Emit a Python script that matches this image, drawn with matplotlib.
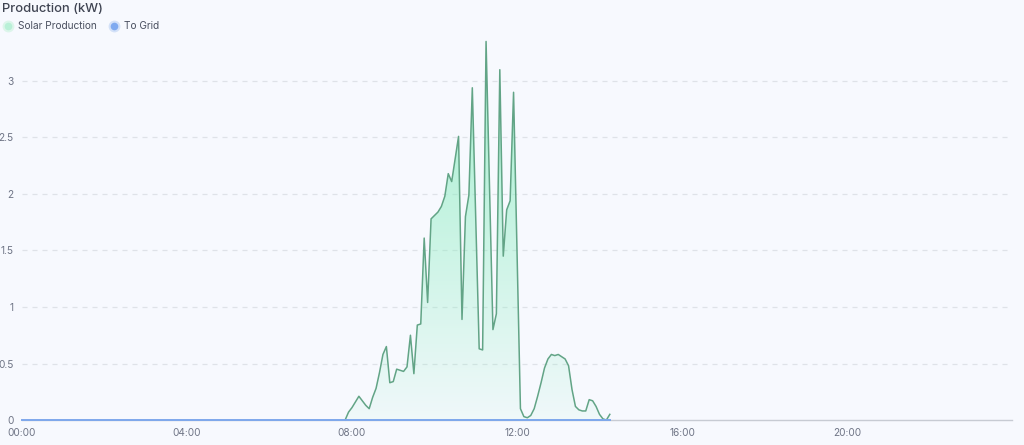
import numpy as np
import matplotlib
matplotlib.use("Agg")
import matplotlib.pyplot as plt
from matplotlib.lines import Line2D

plt.rcParams['font.family'] = ['Inter', 'DejaVu Sans']

# ---- data ----
title = "Production (kW)"
series_names = ["Solar Production", "To Grid"]
x_tick_labels = ["00:00", "04:00", "08:00", "12:00", "16:00", "20:00"]
x_tick_hours = [0, 4, 8, 12, 16, 20]
y_ticks = [0, 0.5, 1, 1.5, 2, 2.5, 3]
y_tick_labels = ["0", "0.5", "1", "1.5", "2", "2.5", "3"]

step_min = 5
solar_start_min = 7 * 60 + 50   # 07:50
solar_kw = [
    0.00, 0.07, 0.11, 0.16, 0.21, 0.17, 0.13, 0.10, 0.20, 0.28,
    0.42, 0.58, 0.65, 0.33, 0.34, 0.45, 0.44, 0.43, 0.47, 0.75,
    0.41, 0.84, 0.85, 1.61, 1.04, 1.78, 1.81, 1.84, 1.89, 1.98,
    2.18, 2.11, 2.31, 2.51, 0.89, 1.80, 1.99, 2.94, 1.78, 0.63,
    0.62, 3.35, 2.07, 0.80, 0.94, 3.10, 1.45, 1.86, 1.94, 2.90,
    1.50, 0.10, 0.03, 0.02, 0.04, 0.10, 0.21, 0.33, 0.46, 0.54,
    0.58, 0.57, 0.58, 0.56, 0.54, 0.48, 0.27, 0.12, 0.09, 0.08,
    0.08, 0.18, 0.17, 0.12, 0.05, 0.01, 0.00, 0.05,
]
grid_start_min = 0
to_grid_kw = [0.0] * 172   # 00:00 .. 14:15, flat at zero

solar_t = (solar_start_min + step_min * np.arange(len(solar_kw))) / 60.0
grid_t = (grid_start_min + step_min * np.arange(len(to_grid_kw))) / 60.0
solar = np.array(solar_kw)
grid = np.array(to_grid_kw)

# ---- style ----
bg = "#f7f9fe"
line_green = "#62a486"
fill_rgb = (0.55, 0.93, 0.76)
blue = "#7ea8ec"
grid_col = "#dfe2e8"
tick_col = "#6f7586"
title_col = "#3f4452"

W, H = 1024, 445
fig = plt.figure(figsize=(W / 100, H / 100), dpi=100, facecolor=bg)
ax_left, ax_right, ax_bottom_px, ax_top_px = 22, 1012, 420, 35.8
ax = fig.add_axes([ax_left / W, (H - ax_bottom_px) / H,
                   (ax_right - ax_left) / W, (ax_bottom_px - ax_top_px) / H])
ax.set_facecolor(bg)
ax.set_xlim(0, 24)
ax.set_ylim(0, 3.4)

# grid lines
for yv in y_ticks[1:]:
    ax.axhline(yv, color=grid_col, lw=0.9, ls=(0, (4, 4)), zorder=0)
ax.axhline(0, color="#c7cbd3", lw=1.0, zorder=1, clip_on=False)

# gradient fill under the solar curve
poly = ax.fill_between(solar_t, solar, 0, color="none", lw=0)
ymax = solar.max()
n = 256
alpha = np.linspace(0.07, 0.8, n).reshape(n, 1)
img = np.zeros((n, 1, 4))
img[..., 0] = fill_rgb[0]
img[..., 1] = fill_rgb[1]
img[..., 2] = fill_rgb[2]
img[..., 3] = alpha
im = ax.imshow(img, extent=[solar_t[0], solar_t[-1], 0, ymax], origin="lower",
               aspect="auto", zorder=2, interpolation="bilinear")
path = poly.get_paths()[0]
im.set_clip_path(path, transform=ax.transData)

ax.plot(solar_t, solar, color=line_green, lw=1.1, zorder=3, clip_on=False)
ax.plot(grid_t, grid, color=blue, lw=1.4, zorder=4, clip_on=False)

# ticks
ax.set_xticks(x_tick_hours)
ax.set_xticklabels(x_tick_labels)
ax.set_yticks(y_ticks)
ax.set_yticklabels(y_tick_labels)
ax.tick_params(axis="both", length=0, colors=tick_col, labelsize=7.3)
ax.tick_params(axis="x", pad=6)
ax.tick_params(axis="y", pad=6)
for s in ax.spines.values():
    s.set_visible(False)

# title
fig.text(2 / W, 1 - 8.5 / H, title, ha="left", va="center", fontsize=9.3,
         color=title_col, fontweight="medium")

# legend
def legend_item(x_px, label, color, halo):
    yf = 1 - 26 / H
    fig.add_artist(Line2D([x_px / W], [yf], marker="o", ms=8.5, color=halo,
                          mec="none", transform=fig.transFigure))
    fig.add_artist(Line2D([x_px / W], [yf], marker="o", ms=5.5, color=color,
                          mec="none", transform=fig.transFigure))
    fig.text((x_px + 10) / W, yf, label, ha="left", va="center", fontsize=7.3,
             color="#4a5060")

legend_item(8, series_names[0], "#b9f0d7", "#dcf5ea")
legend_item(114, series_names[1], "#7faaf0", "#d3e1f8")

fig.savefig("out.png", dpi=100, facecolor=bg)
